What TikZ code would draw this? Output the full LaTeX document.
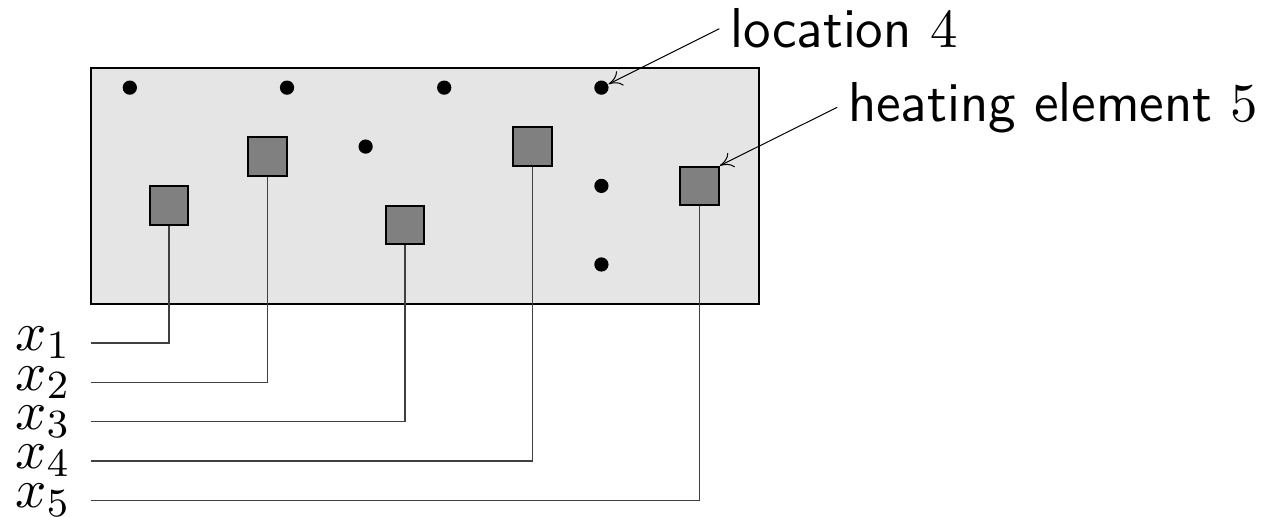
\documentclass[tikz,border=0pt]{standalone}
\usetikzlibrary{arrows.meta}
\begin{document}
\begin{tikzpicture}[x=7.86pt,y=-7.86pt,
  every node/.style={font=\fontsize{10.9}{13}\selectfont},
  board/.style={draw=black,line width=0.4pt,fill=black!10},
  heater/.style={draw=black,line width=0.4pt,fill=black!50,minimum size=7.7pt,inner sep=0pt},
  spot/.style={circle,fill=black,inner sep=0pt,minimum size=2.85pt},
  conn/.style={draw=black!75,line width=0.25pt},
  pointer/.style={draw=black,line width=0.2pt,-{Computer Modern Rightarrow[length=2.6pt,width=3.2pt]}},
  callout/.style={anchor=west,inner xsep=2pt,inner ysep=0pt,font=\fontsize{11.25}{13}\selectfont\sffamily},
  varlabel/.style={anchor=east,inner xsep=3.8pt,inner ysep=0pt}]
\useasboundingbox (-2.303,-1.730) rectangle (29.936,11.425);
% board
\draw[board] (0,0) rectangle (17,6);
% locations
\node[spot] (d1) at (1,0.5) {};
\node[spot] (d2) at (5,0.5) {};
\node[spot] (d3) at (9,0.5) {};
\node[spot] (d4) at (13,0.5) {};
\node[spot] (d5) at (7,2) {};
\node[spot] (d6) at (13,3) {};
\node[spot] (d7) at (13,5) {};
% heating elements
\node[heater] (h1) at (2,3.5) {};
\node[heater] (h2) at (4.5,2.25) {};
\node[heater] (h3) at (8,4) {};
\node[heater] (h4) at (11.25,2) {};
\node[heater] (h5) at (15.5,3) {};
% variable labels
\node[varlabel] (x1) at (0,7) {$x_1$};
\node[varlabel] (x2) at (0,8) {$x_2$};
\node[varlabel] (x3) at (0,9) {$x_3$};
\node[varlabel] (x4) at (0,10) {$x_4$};
\node[varlabel] (x5) at (0,11) {$x_5$};
% connectors
\draw[conn] (h1.south) |- (x1.east);
\draw[conn] (h2.south) |- (x2.east);
\draw[conn] (h3.south) |- (x3.east);
\draw[conn] (h4.south) |- (x4.east);
\draw[conn] (h5.south) |- (x5.east);
% callouts
\node[callout] (loc) at (16,-1) {location $4$};
\node[callout] (hel) at (19,1) {heating element $5$};
\draw[pointer] (loc.west) -- (d4);
\draw[pointer] (hel.west) -- (h5.north east);
\end{tikzpicture}
\end{document}
